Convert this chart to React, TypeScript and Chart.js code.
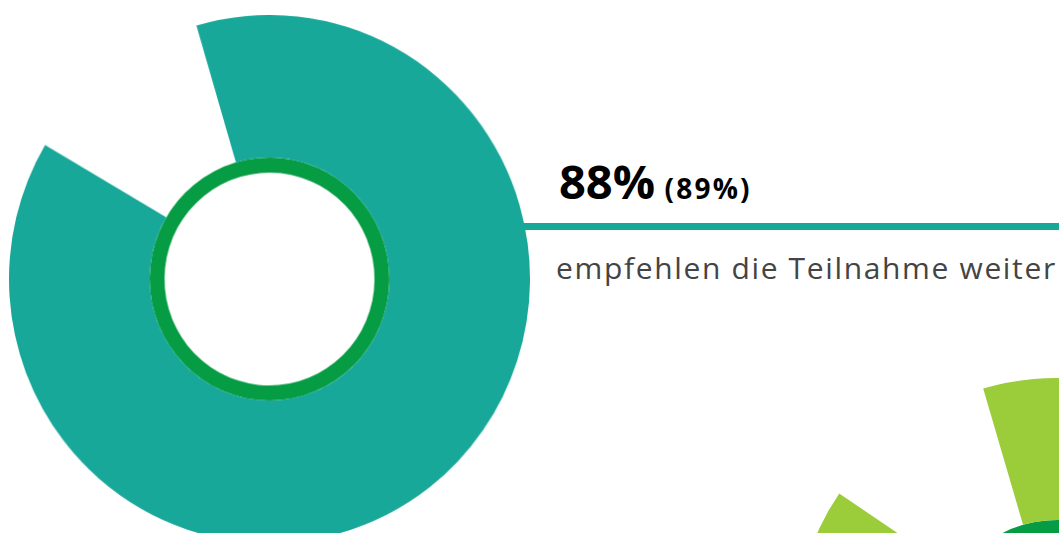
import React, { useEffect, useRef } from "react";
import { Chart, registerables } from "chart.js";

Chart.register(...registerables);

const mainLabels = ["empfehlen weiter", "nicht"];
const mainValues = [88, 12];
const secondValues = [89, 11];
const ringValues = [100];

const TEAL = "#18a89a";
const DARK_GREEN = "#069c43";
const LIME = "#9bcd3a";

function makeConfig(values: number[], color: string): any {
  return {
    type: "doughnut",
    data: {
      labels: mainLabels,
      datasets: [
        {
          data: values,
          backgroundColor: [color, "rgba(0,0,0,0)"],
          borderWidth: 0,
          hoverOffset: 0,
          offset: 0,
          weight: 142,
        },
        {
          data: ringValues,
          backgroundColor: [DARK_GREEN],
          borderWidth: 0,
          hoverOffset: 0,
          offset: 0,
          weight: 15,
        },
      ],
    },
    options: {
      animation: false,
      responsive: false,
      maintainAspectRatio: false,
      rotation: -16.3,
      circumference: 360,
      cutout: 106,
      spacing: 0,
      layout: { padding: 0 },
      events: [],
      plugins: {
        legend: { display: false },
        tooltip: { enabled: false },
        title: { display: false },
      },
    },
  };
}

function Donut({
  values,
  color,
  left,
  top,
  w,
  h,
}: {
  values: number[];
  color: string;
  left: number;
  top: number;
  w: number;
  h: number;
}) {
  const ref = useRef<HTMLCanvasElement | null>(null);
  useEffect(() => {
    if (!ref.current) return;
    const chart = new Chart(ref.current, makeConfig(values, color));
    return () => chart.destroy();
  }, [values, color]);
  return (
    <canvas
      ref={ref}
      width={526}
      height={526}
      style={{ position: "absolute", left, top, width: w, height: h, zIndex: 1 }}
    />
  );
}

export default function App() {
  return (
    <div
      style={{
        position: "fixed",
        left: 0,
        top: 0,
        width: 1059,
        height: 533,
        overflow: "hidden",
        background: "#ffffff",
      }}
    >
      <div
        style={{
          position: "absolute",
          left: 520,
          top: 222.5,
          width: 560,
          height: 7,
          background: TEAL,
          zIndex: 0,
        }}
      />
      <Donut values={mainValues} color={TEAL} left={9} top={15} w={521} h={528} />
      <Donut values={secondValues} color={LIME} left={794} top={378} w={526} h={526} />
      <div
        style={{
          position: "absolute",
          left: 559,
          top: 157.6,
          fontFamily: "'Open Sans', sans-serif",
          fontWeight: 700,
          fontSize: 47,
          lineHeight: 1,
          color: "#000",
          whiteSpace: "nowrap",
          zIndex: 2,
        }}
      >
        88%<span style={{ fontSize: 28, letterSpacing: 2.2 }}> (89%)</span>
      </div>
      <div
        style={{
          position: "absolute",
          left: 556,
          top: 253.4,
          fontFamily: "'Open Sans', sans-serif",
          fontWeight: 400,
          fontSize: 30,
          lineHeight: 1,
          letterSpacing: 1.65,
          color: "#444444",
          whiteSpace: "nowrap",
          zIndex: 2,
        }}
      >
        empfehlen die Teilnahme weiter
      </div>
    </div>
  );
}
